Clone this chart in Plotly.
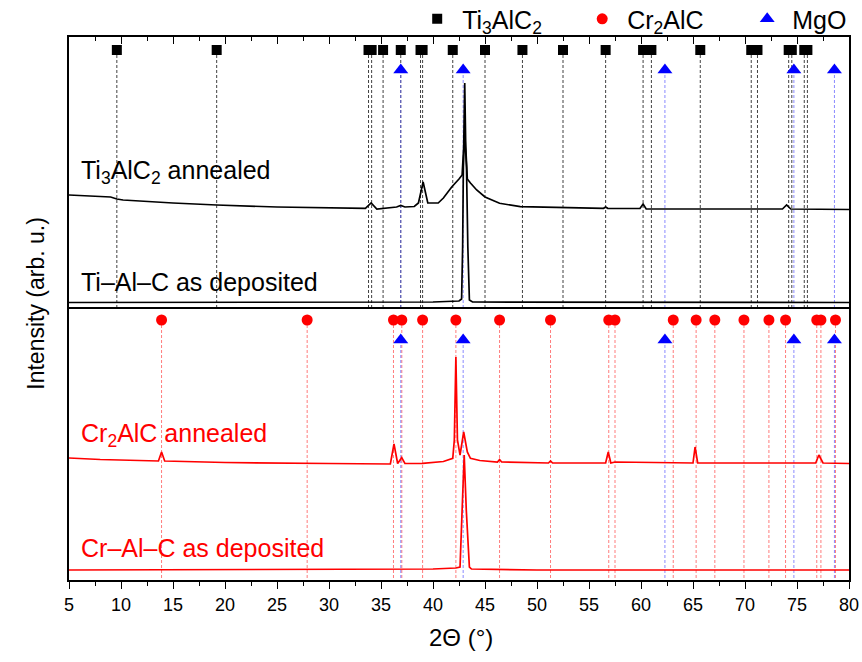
import plotly.graph_objects as go
from plotly.subplots import make_subplots

# Reference reflection positions, 2θ (°)
ti3alc2_pos = [9.6, 19.2, 33.8, 34.1, 35.2, 36.9, 38.8, 39.0, 41.9, 45.0, 48.6,
               52.5, 56.6, 60.2, 61.0, 65.7, 70.6, 71.2, 74.2, 74.5, 75.7, 76.0]
cr2alc_pos = [13.9, 27.9, 36.2, 37.0, 39.0, 42.2, 46.4, 51.3, 56.9, 57.5, 63.1,
              65.3, 67.1, 69.9, 72.3, 73.9, 76.9, 77.3, 78.7]
mgo_pos = [36.9, 42.9, 62.3, 74.7, 78.6]

# Marker heights of the reference rows (intensity units of each panel)
ti_row, mgo_row_top = 257, 237
cr_row, mgo_row_bot = 260, 240

# Measured patterns (2θ, intensity in arb. u.)
ti_ann_x = [5.0, 9.0, 9.6, 10.2, 15.0, 19.2, 25.0, 30.0, 33.5, 34.05, 34.6, 36.5,
            36.9, 37.3, 38.2, 38.6, 39.05, 39.5, 40.0, 40.5, 41.0, 41.8, 42.5,
            42.8, 42.95, 43.05, 43.15, 43.3, 43.6, 44.2, 45.0, 46.4, 48.4, 52.0,
            56.4, 56.6, 56.8, 59.9, 60.2, 60.5, 65.0, 70.0, 73.6, 74.0, 74.4, 80.0]
ti_ann_y = [112, 110, 108, 107, 104, 102, 100, 99, 98.7, 104, 98, 100, 101.5, 100,
            100.5, 104, 125, 104, 103.7, 104, 109, 120, 128, 132, 160, 224, 160,
            128, 124, 117, 110, 103.7, 100.3, 99.5, 98.7, 100, 98.7, 98.5, 103, 98,
            98, 98, 98, 102, 98, 97.5]

ti_dep_x = [5.0, 20.0, 40.0, 42.5, 42.75, 42.85, 42.92, 43.05, 43.22, 43.35, 43.5,
            43.8, 60.0, 80.0]
ti_dep_y = [4.5, 4.5, 5, 6, 8, 60, 140, 175, 140, 60, 7, 5, 4.5, 4.5]

cr_ann_x = [5.0, 8.0, 13.6, 13.9, 14.2, 20.0, 30.0, 35.9, 36.25, 36.6, 36.99, 37.3,
            39.0, 41.0, 41.9, 42.05, 42.2, 42.35, 42.6, 42.95, 43.3, 43.6, 44.5,
            46.2, 46.4, 46.6, 51.1, 51.3, 51.5, 56.6, 56.85, 57.1, 57.5, 65.0,
            65.2, 65.45, 70.0, 76.8, 77.1, 77.5, 80.0]
cr_ann_y = [122, 120.5, 119, 128, 119, 117.5, 116.5, 116, 136, 116.5, 122.3, 116.5,
            116.7, 118.5, 121.7, 140, 223, 140, 125, 148, 128, 121.7, 119.5, 118,
            120.5, 118, 117, 119, 117, 117, 128, 117, 118, 117, 133, 117, 117, 117,
            125, 117, 116.5]

cr_dep_x = [5.0, 30.0, 40.0, 42.2, 42.6, 42.8, 43.0, 43.2, 43.5, 43.7, 50.0, 80.0]
cr_dep_y = [10, 10.5, 11, 12, 13, 70, 125, 70, 13, 11, 10, 10]

BLACK = "#000000"
RED = "#ff0000"
BLUE = "#0000ff"
FONT = "Liberation Sans, Arial, sans-serif"


def drop_lines(positions, top):
    xs, ys = [], []
    for p in positions:
        xs += [p, p, None]
        ys += [top, 0, None]
    return xs, ys


fig = make_subplots(rows=2, cols=1, shared_xaxes=False, vertical_spacing=0)

# --- upper panel: Ti-Al-C ---
x, y = drop_lines(ti3alc2_pos, ti_row)
fig.add_trace(go.Scatter(x=x, y=y, mode="lines", showlegend=False, hoverinfo="skip",
                         line=dict(color="rgba(0,0,0,0.75)", width=1, dash="3px,2px")),
              row=1, col=1)
x, y = drop_lines(mgo_pos, mgo_row_top)
fig.add_trace(go.Scatter(x=x, y=y, mode="lines", showlegend=False, hoverinfo="skip",
                         line=dict(color="rgba(90,90,255,0.7)", width=1, dash="3px,2px")),
              row=1, col=1)
fig.add_trace(go.Scatter(x=ti_dep_x, y=ti_dep_y, mode="lines", showlegend=False,
                         line=dict(color=BLACK, width=1.7)), row=1, col=1)
fig.add_trace(go.Scatter(x=ti_ann_x, y=ti_ann_y, mode="lines", showlegend=False,
                         line=dict(color=BLACK, width=1.7)), row=1, col=1)
fig.add_trace(go.Scatter(x=ti3alc2_pos, y=[ti_row] * len(ti3alc2_pos), mode="markers",
                         name="Ti<sub>3</sub>AlC<sub>2</sub>",
                         marker=dict(symbol="square", size=10, color=BLACK)),
              row=1, col=1)
fig.add_trace(go.Scatter(x=mgo_pos, y=[mgo_row_top] * len(mgo_pos), mode="markers",
                         showlegend=False,
                         marker=dict(symbol="triangle-up", size=13, color=BLUE)),
              row=1, col=1)

# --- lower panel: Cr-Al-C ---
x, y = drop_lines(cr2alc_pos, cr_row)
fig.add_trace(go.Scatter(x=x, y=y, mode="lines", showlegend=False, hoverinfo="skip",
                         line=dict(color="rgba(255,80,80,0.75)", width=1, dash="3px,2px")),
              row=2, col=1)
x, y = drop_lines(mgo_pos, mgo_row_bot)
fig.add_trace(go.Scatter(x=x, y=y, mode="lines", showlegend=False, hoverinfo="skip",
                         line=dict(color="rgba(90,90,255,0.7)", width=1, dash="3px,2px")),
              row=2, col=1)
fig.add_trace(go.Scatter(x=cr_dep_x, y=cr_dep_y, mode="lines", showlegend=False,
                         line=dict(color=RED, width=1.7)), row=2, col=1)
fig.add_trace(go.Scatter(x=cr_ann_x, y=cr_ann_y, mode="lines", showlegend=False,
                         line=dict(color=RED, width=1.7)), row=2, col=1)
fig.add_trace(go.Scatter(x=cr2alc_pos, y=[cr_row] * len(cr2alc_pos), mode="markers",
                         name="Cr<sub>2</sub>AlC",
                         marker=dict(symbol="circle", size=11, color=RED)),
              row=2, col=1)
fig.add_trace(go.Scatter(x=mgo_pos, y=[mgo_row_bot] * len(mgo_pos), mode="markers",
                         name="MgO",
                         marker=dict(symbol="triangle-up", size=13, color=BLUE)),
              row=2, col=1)

split = 273 / 543

common_x = dict(range=[5, 80], showgrid=False, zeroline=False, showline=True,
                linecolor=BLACK, linewidth=1.8, tick0=5, dtick=5)
fig.update_xaxes(**common_x)
fig.update_xaxes(row=1, col=1, side="top", ticks="inside", ticklen=7, tickwidth=1.4,
                 tickcolor=BLACK, showticklabels=False, mirror=True,
                 minor=dict(dtick=2.5, tick0=5, ticks="inside", ticklen=4,
                            tickwidth=1.4, tickcolor=BLACK))
fig.update_xaxes(row=2, col=1, ticks="outside", ticklen=7, tickwidth=1.4,
                 tickcolor=BLACK, tickfont=dict(size=18, color=BLACK, family=FONT),
                 minor=dict(dtick=2.5, tick0=5, ticks="outside", ticklen=4,
                            tickwidth=1.4, tickcolor=BLACK))
fig.update_yaxes(showgrid=False, zeroline=False, showline=True, linecolor=BLACK,
                 linewidth=1.8, mirror=True, ticks="", showticklabels=False)
fig.update_yaxes(row=1, col=1, range=[0, 270], domain=[split, 1])
fig.update_yaxes(row=2, col=1, range=[0, 273], domain=[0, split])

labels = [
    ("Ti<sub>3</sub>AlC<sub>2</sub> annealed", "y", 135, BLACK),
    ("Ti–Al–C as deposited", "y", 25, BLACK),
    ("Cr<sub>2</sub>AlC annealed", "y2", 145, RED),
    ("Cr–Al–C as deposited", "y2", 32, RED),
]
for text, yref, yv, col in labels:
    fig.add_annotation(text=text, x=6.0, y=yv, xref="x" if yref == "y" else "x2",
                       yref=yref, xanchor="left", yanchor="middle", showarrow=False,
                       font=dict(size=25, color=col, family=FONT))

fig.add_annotation(text="Intensity (arb. u.)", x=-0.062, y=0.51, xref="paper",
                   yref="paper", textangle=-90, showarrow=False,
                   font=dict(size=23, color=BLACK, family=FONT))
fig.add_annotation(text="2Θ (°)", x=0.503, y=-0.077, xref="paper", yref="paper",
                   xanchor="center", yanchor="top", showarrow=False,
                   font=dict(size=24, color=BLACK, family=FONT))

fig.update_layout(
    width=862, height=662,
    margin=dict(l=69, r=13, t=37, b=82, autoexpand=False),
    paper_bgcolor="white", plot_bgcolor="white",
    font=dict(family=FONT, color=BLACK),
    legend=dict(orientation="h", x=0.44, y=1.033, xanchor="left", yanchor="middle",
                font=dict(size=25, color=BLACK, family=FONT),
                bgcolor="rgba(0,0,0,0)", traceorder="normal", itemwidth=40,
                entrywidth=110, entrywidthmode="pixels"),
)

fig.write_html("out.html")
